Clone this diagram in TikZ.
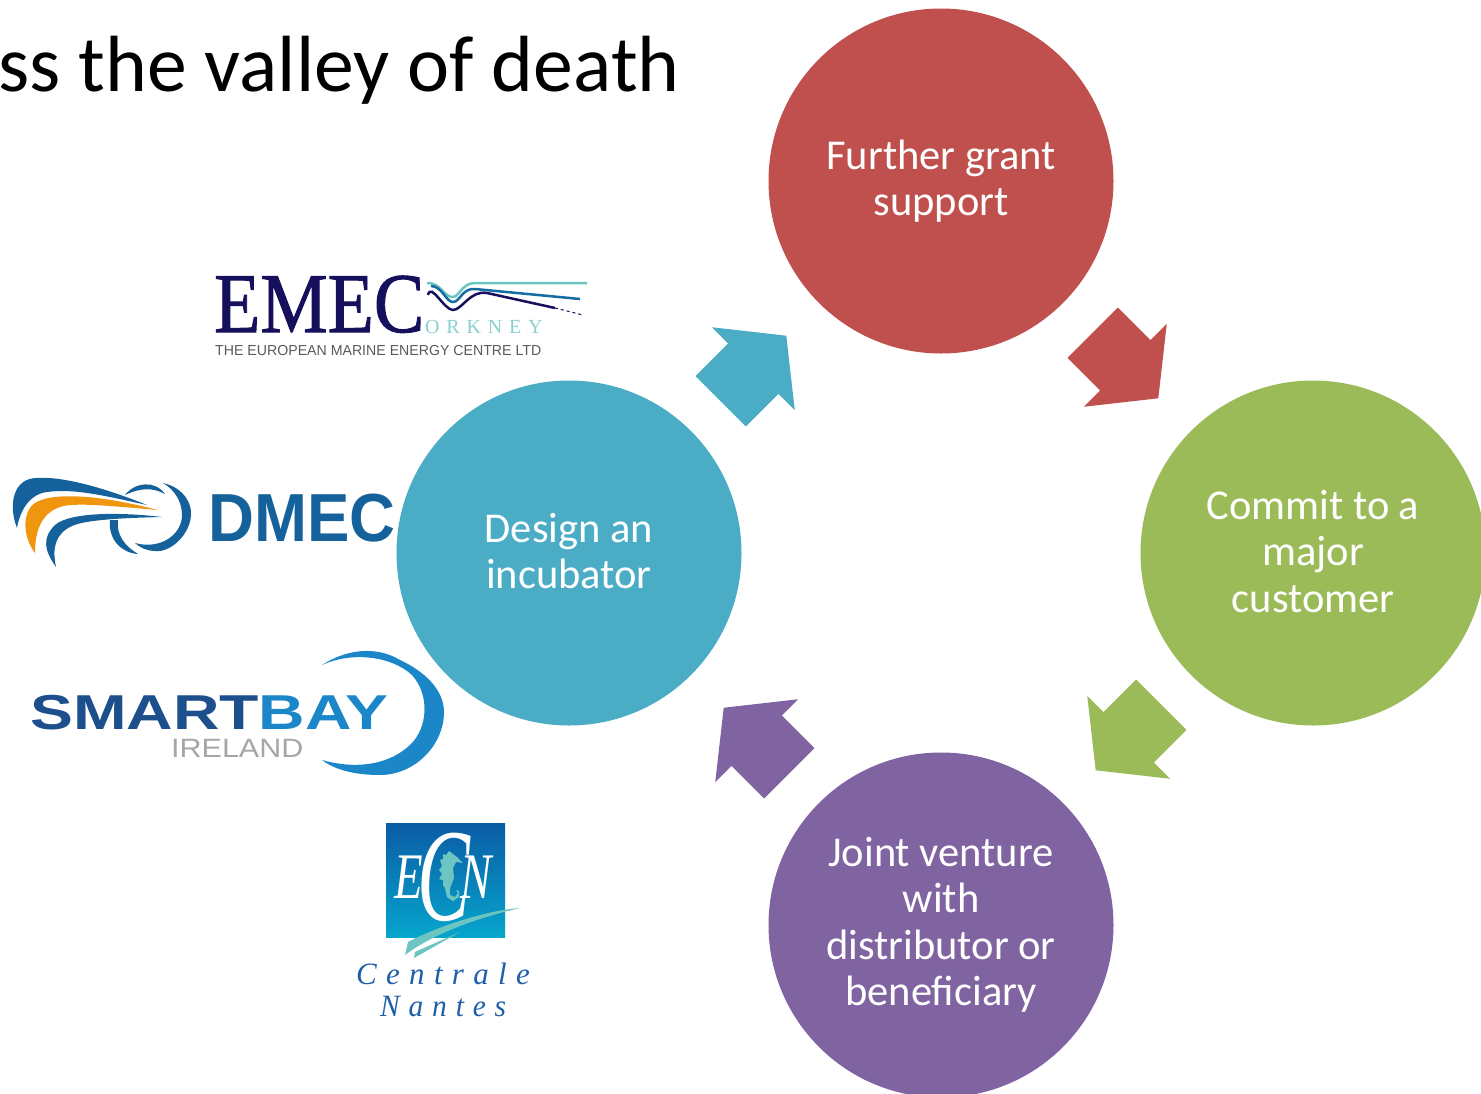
\documentclass[tikz,border=0pt]{standalone}
\usepackage{fontspec}
\setmainfont{Carlito}
\newfontfamily\emecfont[FakeBold=1.2]{Liberation Serif}
\newfontfamily\ecnfont{Liberation Serif}
\newfontfamily\logofont{Liberation Sans}
\newfontfamily\orkneyfont[LetterSpace=34]{Liberation Serif}
\newfontfamily\centralefont[LetterSpace=30]{Liberation Serif}
\usetikzlibrary{shapes.arrows}
\definecolor{grantred}{HTML}{C0504D}
\definecolor{customergreen}{HTML}{9BBB59}
\definecolor{incubatorblue}{HTML}{4BACC6}
\definecolor{venturepurple}{HTML}{8064A2}
\definecolor{emecnavy}{HTML}{16105C}
\definecolor{emecteal}{HTML}{6CC5C1}
\definecolor{dmecblue}{HTML}{15619B}
\definecolor{dmecorange}{HTML}{F0960E}
\definecolor{bayblue}{HTML}{1B87C9}
\definecolor{smartblue}{HTML}{1C4F8C}
\definecolor{centraleblue}{HTML}{1F5FA8}
\definecolor{ecntop}{HTML}{0A5CA5}
\definecolor{ecnbottom}{HTML}{06A5CC}
\newcommand{\stagestrut}{\rule[-4pt]{0pt}{46.5pt}}
\tikzset{
  stage/.style={shape=circle, minimum size=345pt, inner sep=0pt, text=white, align=center,
    font=\fontsize{42.5}{46.5}\selectfont,
    execute at begin node=\stagestrut, execute at end node=\stagestrut},
  stagearrow/.style={shape=single arrow, sloped, allow upside down, inner xsep=0pt, inner ysep=35.4pt, outer sep=0pt,
    minimum height=92.7pt, minimum width=116.9pt, single arrow head extend=23.1pt,
    single arrow tip angle=103},
  logotext/.style={anchor=base west, inner sep=0pt}
}
\newcommand{\stagelink}[4]{\path (#1) -- (#2) node [stagearrow, pos=0.41, fill=#3] (#4) {};}
\begin{document}
\begin{tikzpicture}[x=1pt, y=-1pt]
\useasboundingbox (0, 0) rectangle (1481, 1093);
\node at (-2, 91) [logotext, font=\fontsize{79.7}{90}\selectfont] (title) {ss the valley of death};

\node at (941, 181) [stage, fill=grantred] (grant) {Further grant\\support};
\node at (1313, 553) [stage, fill=customergreen] (customer) {Commit to a\\major\\customer};
\node at (941, 925) [stage, fill=venturepurple] (venture) {Joint venture\\with\\distributor or\\beneficiary};
\node at (569, 553) [stage, fill=incubatorblue] (incubator) {Design an\\incubator};

\stagelink{incubator}{grant}{incubatorblue}{link1}
\stagelink{grant}{customer}{grantred}{link2}
\stagelink{customer}{venture}{customergreen}{link3}
\stagelink{venture}{incubator}{venturepurple}{link4}

% EMEC
\node at (214, 332) [logotext, text=emecnavy, font=\emecfont\fontsize{85}{85}\selectfont] (emec) {\scalebox{.89}[1]{EMEC}};
\node at (425, 333) [logotext, text=emecteal!80, font=\orkneyfont\fontsize{20}{20}\selectfont] (orkney) {ORKNEY};
\node at (215, 355) [logotext, text=black!65, font=\logofont\fontsize{14.5}{15}\selectfont] (emecline) {\scalebox{.976}[1]{THE EUROPEAN MARINE ENERGY CENTRE LTD}};
\draw [emecteal, line width=2.5pt] (427, 283) .. controls (440, 282) and (445, 298) .. (453, 297) .. controls (460, 296) and (462, 283) .. (475, 283) -- (587, 283);
\draw [bayblue!80!black, line width=2.5pt] (431, 286) .. controls (442, 286) and (446, 302) .. (453, 302) .. controls (460, 302) and (462, 288) .. (475, 289) -- (580, 299);
\draw [emecnavy, line width=2.5pt] (428, 295) .. controls (431, 282) and (444, 310) .. (453, 310) .. controls (462, 310) and (470, 290) .. (487, 293) -- (555, 308);
\draw [emecnavy, line width=1pt, dashed] (555, 308) -- (583, 315);

% DMEC
\node at (208, 541) [logotext, text=dmecblue, font=\logofont\bfseries\fontsize{68}{68}\selectfont] (dmec) {\scalebox{.935}[1]{DMEC}};
\fill [dmecblue] (17, 528) .. controls (8, 505) and (13, 478) .. (37, 478) .. controls (65, 476) and (110, 490) .. (147, 505) .. controls (110, 497) and (75, 488) .. (47, 492) .. controls (30, 494) and (20, 510) .. (17, 528) -- cycle;
\fill [dmecorange] (35, 553) .. controls (25, 540) and (22, 520) .. (30, 508) .. controls (38, 494) and (80, 490) .. (158, 510) .. controls (110, 506) and (75, 502) .. (60, 507) .. controls (42, 513) and (35, 530) .. (35, 553) -- cycle;
\fill [dmecblue] (56, 567) .. controls (44, 550) and (42, 538) .. (55, 525) .. controls (70, 512) and (120, 512) .. (162, 517) .. controls (120, 518) and (85, 520) .. (72, 526) .. controls (55, 534) and (52, 548) .. (56, 567) -- cycle;
\fill [dmecblue] (163, 483) .. controls (185, 488) and (192, 505) .. (191, 515) .. controls (190, 535) and (170, 553) .. (155, 551) .. controls (148, 551) and (140, 548) .. (135, 543) .. controls (160, 550) and (182, 535) .. (182, 515) .. controls (182, 502) and (175, 490) .. (163, 483) -- cycle;
\fill [dmecblue] (125, 495) .. controls (135, 482) and (155, 480) .. (165, 494) .. controls (152, 487) and (140, 488) .. (125, 495) -- cycle;
\fill [dmecblue] (110, 520) .. controls (108, 540) and (122, 553) .. (138, 554) .. controls (125, 546) and (116, 535) .. (118, 520) -- cycle;

% SmartBay
\node at (30, 729) [logotext, font=\logofont\bfseries\fontsize{49}{49}\selectfont] (smartbay) {\scalebox{1.313}[1]{\textcolor{smartblue}{SMART}\textcolor{bayblue}{BAY}}};
\node at (171, 757) [logotext, text=black!35, font=\logofont\fontsize{26.5}{27}\selectfont] (ireland) {\scalebox{1.15}[1]{IRELAND}};
\fill [bayblue] (322, 665) .. controls (345, 650) and (375, 645) .. (400, 660) .. controls (432, 675) and (444, 695) .. (444, 712) .. controls (444, 745) and (415, 775) .. (380, 775) .. controls (355, 775) and (335, 770) .. (322, 760) .. controls (350, 768) and (385, 768) .. (410, 745) .. controls (428, 728) and (430, 695) .. (412, 675) .. controls (390, 655) and (350, 652) .. (322, 665) -- cycle;

% Centrale Nantes
\shade [top color=ecntop, bottom color=ecnbottom] (386, 823) rectangle (505, 937);
\node at (394, 898) [logotext, text=white, font=\ecnfont\itshape\fontsize{65}{65}\selectfont] (ecnE) {\scalebox{.72}[1]{E}};
\node at (417, 920) [logotext, text=white, font=\ecnfont\itshape\fontsize{132}{132}\selectfont] (ecnC) {\scalebox{.6}[1]{C}};
\node at (460, 898) [logotext, text=white, font=\ecnfont\itshape\fontsize{65}{65}\selectfont] (ecnN) {\scalebox{.72}[1]{N}};
\fill [emecteal] (449, 851) -- (457, 857) -- (463, 863) -- (456, 862) -- (453, 868) -- (454, 878) -- (450, 888) -- (450, 895) -- (455, 897) -- (458, 893) -- (456, 890) -- (459, 891) -- (459, 897) -- (453, 901) -- (447, 897) -- (445, 888) -- (443, 885) -- (443, 880) -- (439, 879) -- (442, 874) -- (439, 870) -- (442, 866) -- (440, 860) -- (443, 859) -- (443, 854) -- (446, 855) -- cycle;
\fill [emecteal] (520, 908) .. controls (490, 910) and (440, 925) .. (408, 942) -- (405, 955) .. controls (425, 940) and (460, 922) .. (520, 908) -- cycle;
\fill [emecteal] (460, 932) -- (415, 952) -- (414, 958) -- cycle;
\node at (356, 984) [logotext, text=centraleblue, font=\centralefont\itshape\fontsize{31}{31}\selectfont] (centrale) {Centrale};
\node at (380, 1016) [logotext, text=centraleblue, font=\centralefont\itshape\fontsize{31}{31}\selectfont] (nantes) {\scalebox{.95}[1]{Nantes}};
\end{tikzpicture}
\end{document}
